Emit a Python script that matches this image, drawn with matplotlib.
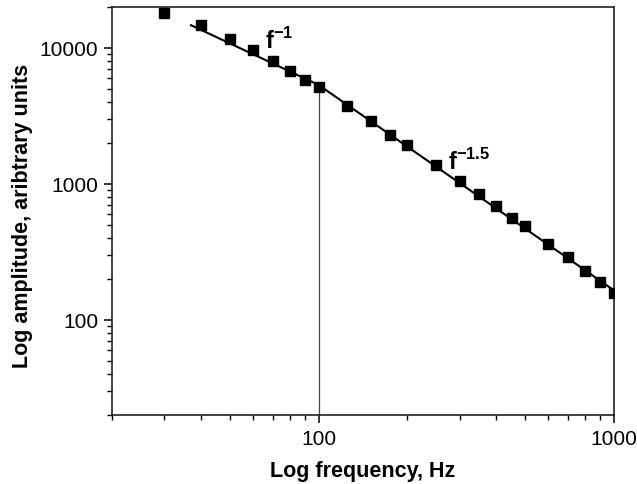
import matplotlib
matplotlib.use("Agg")
import matplotlib.pyplot as plt
from matplotlib.ticker import LogLocator, NullFormatter, FixedLocator, FixedFormatter
import numpy as np

plt.rcParams['font.family'] = ['Liberation Sans', 'DejaVu Sans']
plt.rcParams['mathtext.fontset'] = 'custom'
plt.rcParams['mathtext.rm'] = 'Liberation Sans'
plt.rcParams['mathtext.bf'] = 'Liberation Sans:bold'

freq = [30, 40, 50, 60, 70, 80, 90, 100, 125, 150, 175, 200, 250, 300, 350,
        400, 450, 500, 600, 700, 800, 900, 1000]
amp = [18200, 14700, 11600, 9670, 8070, 6780, 5830, 5120, 3715, 2884, 2306,
       1923, 1374, 1048, 838, 687, 565, 491, 361, 288, 228, 189, 158]

fit1_f = [37, 100]
fit1_a = [14700, 5350]
fit2_f = [100, 1000]
fit2_a = [5350, 165]

label1_pos = (66, 10000)
label2_pos = (274, 1280)

x_ticks = [100, 1000]
x_ticklabels = ["100", "1000"]
y_ticks = [100, 1000, 10000]
y_ticklabels = ["100", "1000", "10000"]

fig = plt.figure(figsize=(6.37, 4.85), dpi=100)
ax = fig.add_axes([112/637, 1-416/485, (614-112)/637, (416-8)/485])

ax.set_xscale('log')
ax.set_yscale('log')
ax.set_xlim(20, 1000)
ax.set_ylim(20, 20000)

ax.plot([freq[7], freq[7]], [20, amp[7]], color='#444444', lw=0.9, zorder=1)
ax.plot(fit1_f, fit1_a, color='black', lw=1.5, zorder=2)
ax.plot(fit2_f, fit2_a, color='black', lw=1.5, zorder=2)
ax.plot(freq, amp, linestyle='none', marker='s', markersize=6.5,
        color='black', zorder=3)

ax.text(label1_pos[0], label1_pos[1], r"$\mathbf{f}^{\mathbf{-1}}$", fontsize=17,
        ha='left', va='baseline')
ax.text(label2_pos[0], label2_pos[1], r"$\mathbf{f}^{\mathbf{-1.5}}$", fontsize=17,
        ha='left', va='baseline')

ax.xaxis.set_major_locator(FixedLocator(x_ticks))
ax.xaxis.set_major_formatter(FixedFormatter(x_ticklabels))
ax.xaxis.set_minor_locator(LogLocator(base=10, subs=np.arange(2, 10)))
ax.xaxis.set_minor_formatter(NullFormatter())
ax.yaxis.set_major_locator(FixedLocator(y_ticks))
ax.yaxis.set_major_formatter(FixedFormatter(y_ticklabels))
ax.yaxis.set_minor_locator(LogLocator(base=10, subs=np.arange(2, 10)))
ax.yaxis.set_minor_formatter(NullFormatter())

ax.tick_params(which='major', direction='out', length=6, width=1.1,
               labelsize=15, top=False, right=False, pad=4)
ax.tick_params(which='minor', direction='out', length=3.5, width=1.0,
               top=False, right=False)
for s in ax.spines.values():
    s.set_linewidth(1.2)
    s.set_color('#222222')

ax.set_xlabel("Log frequency, Hz", fontsize=15.5, fontweight='bold', labelpad=9)
ax.set_ylabel("Log amplitude, aribtrary units", fontsize=15.5, fontweight='bold')
ax.yaxis.set_label_coords(-79/502, (416-216)/408)

fig.savefig("out.png", dpi=100)
